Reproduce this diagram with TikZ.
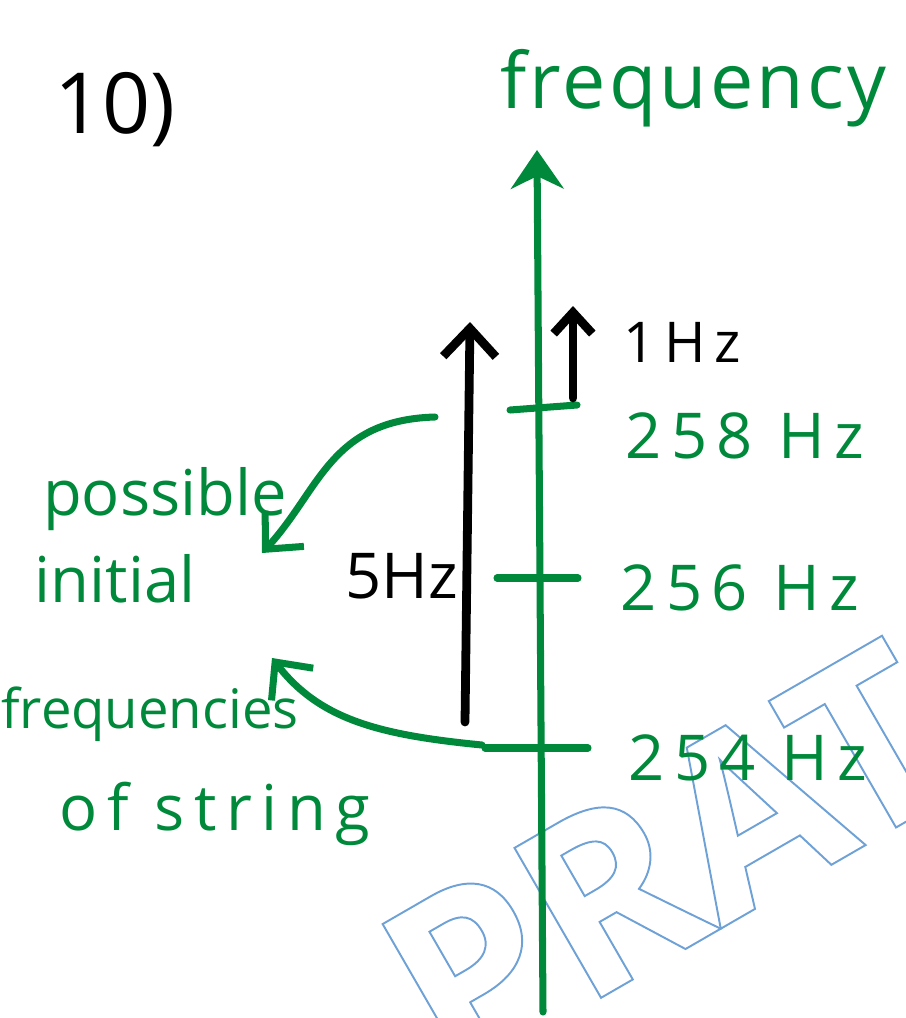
\documentclass[tikz,border=0pt]{standalone}
\usepackage{fontspec}
\setmainfont{Open Sans}
\usepackage{tikz}
\usetikzlibrary{
	arrows.meta,
	positioning
}
\usepackage{xcolor}
\definecolor{inkgreen}{RGB}{0,137,58}
\definecolor{markblue}{RGB}{110,160,215}
\newcommand{\outlinetext}[1]{\special{pdf:code q 1 Tr 1.1 w 0.43 0.63 0.84 RG}#1\special{pdf:code Q}}

\tikzset{
	greenpen/.style={draw=inkgreen,line width=4pt,line cap=round,line join=round},
	blackpen/.style={draw=black,line width=5pt,line cap=round,line join=round},
	hand/.style={inner sep=0pt,anchor=base,font=\fontsize{36}{40}\selectfont},
	greenhand/.style={hand,text=inkgreen},
	spaced/.style={font=\fontsize{36}{40}\selectfont\addfontfeature{LetterSpace=15}},
	barb/.style={-{Straight Barb[length=16pt,width=30pt]}}
}

\begin{document}
\begin{tikzpicture}[x=0.02cm,y=-0.02cm,>=Stealth]
	\clip (0,0) rectangle (906,1018);
	
	% watermark
	\node[anchor=base west,inner sep=0pt,rotate=30,font=\fontsize{138}{138}\selectfont\bfseries] (mark) at (450,1085) {\outlinetext{PRAT}};
	
	\node[hand,font=\fontsize{48}{52}\selectfont] (qnum) at (115,133) {10)};
	\node[greenhand,anchor=base west,font=\fontsize{44}{48}\selectfont\addfontfeature{LetterSpace=4}] (freq) at (500,108) {frequency};
	
	% axis
	\coordinate (axisbot) at (543,1012);
	\coordinate (axistop) at (537,150);
	\draw[greenpen,-{Stealth[length=22pt,width=30pt]}] (axisbot) -- (axistop);
	
	\coordinate (t258a) at (510,410);
	\coordinate (t258b) at (577,405);
	\coordinate (t256a) at (497,578);
	\coordinate (t256b) at (578,578);
	\coordinate (t254a) at (485,748);
	\coordinate (t254b) at (588,748);
	\draw[greenpen] (t258a) -- (t258b);
	\draw[greenpen] (t256a) -- (t256b);
	\draw[greenpen] (t254a) -- (t254b);
	
	\node[greenhand,spaced] (f258) at (745,458) {258 Hz};
	\node[greenhand,spaced] (f256) at (740,610) {256 Hz};
	\node[greenhand,spaced] (f254) at (748,780) {254 Hz};
	
	% gaps
	\coordinate (bigbot) at (465,722);
	\coordinate (bigtop) at (470,322);
	\draw[blackpen,barb] (bigbot) -- (bigtop);
	\node[hand] (five) at (402,598) {5Hz};
	
	\coordinate (smallbot) at (573,398);
	\coordinate (smalltop) at (573,306);
	\draw[blackpen,-{Straight Barb[length=12pt,width=22pt]}] (smallbot) -- (smalltop);
	\node[hand,font=\fontsize{32}{36}\selectfont\addfontfeature{LetterSpace=15}] (one) at (682,362) {1Hz};
	
	% note on the left
	\node[greenhand] (possible) at (165,515) {possible};
	\node[greenhand] (initial) at (115,602) {initial};
	\node[greenhand,font=\fontsize{31}{36}\selectfont] (freqs) at (150,728) {frequencies};
	\node[greenhand,spaced] (ofstring) at (215,830) {of string};
	
	\coordinate (upstart) at (435,417);
	\coordinate (upend) at (262,553);
	\coordinate (downstart) at (482,745);
	\coordinate (downend) at (272,658);
	\draw[greenpen,barb] (upstart) .. controls (330,420) and (320,490) .. (upend);
	\draw[greenpen,barb] (downstart) .. controls (380,735) and (320,720) .. (downend);
	
\end{tikzpicture}
\end{document}
